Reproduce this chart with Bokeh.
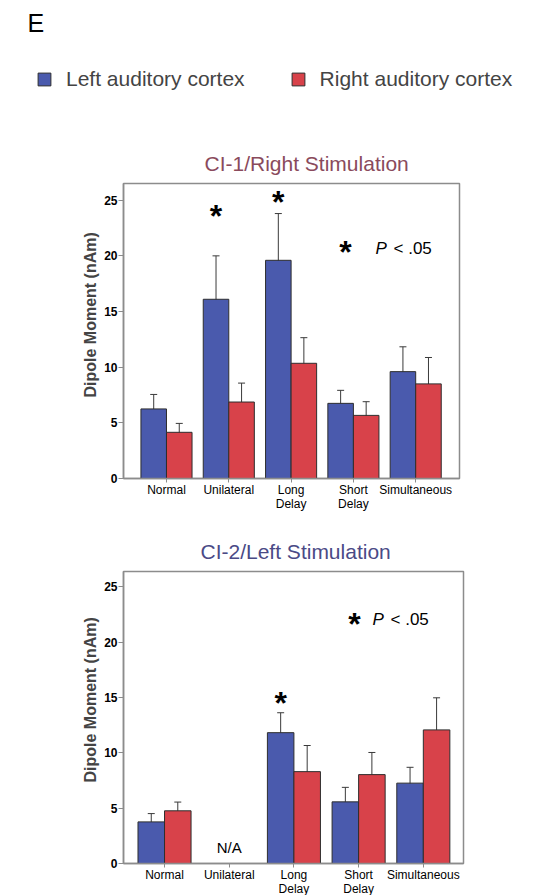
from bokeh.plotting import figure
from bokeh.models import (ColumnDataSource, Whisker, TeeHead, FixedTicker, Title,
                          Legend, LegendItem, Range1d)
from bokeh.layouts import column
from bokeh.embed import file_html
from bokeh.resources import INLINE
from bokeh.core.properties import value

# ---------------- data ----------------
categories = ["Normal", "Unilateral", "Long\nDelay", "Short\nDelay", "Simultaneous"]
series = ["Left auditory cortex", "Right auditory cortex"]
panel_letter = "E"
y_ticks = [0, 5, 10, 15, 20, 25]

ci1_left = [6.25, 16.1, 19.6, 6.75, 9.6]
ci1_left_err = [1.3, 3.9, 4.2, 1.17, 2.23]
ci1_right = [4.15, 6.87, 10.35, 5.67, 8.5]
ci1_right_err = [0.8, 1.7, 2.3, 1.23, 2.37]
ci1_star_cat = [1, 2]
ci1_star_y = [23.97, 25.2]
ci1_sig_y = 20.7

ci2_left = [3.76, None, 11.82, 5.57, 7.26]
ci2_left_err = [0.75, None, 1.8, 1.31, 1.43]
ci2_right = [4.76, None, 8.3, 8.03, 12.07]
ci2_right_err = [0.79, None, 2.36, 2.0, 2.9]
ci2_star_cat = [2]
ci2_star_y = [14.9]
ci2_sig_y = 22.0
ci2_na_cat = [1]
ci2_na_y = [1.44]

BLUE = "#4a5aad"
RED = "#d8424a"
EDGE = "#2e2e2e"
FONT = "Liberation Sans"
BAR_W = 0.41
PAGE_W = 551
HDR_H = 141


def make_chart(title, title_color, title_offset, left, left_err, right, right_err,
               star_cat, star_y, sig_y, star_x, p_x, x_start, x_end, y_end,
               frame_w, frame_h, mb_top, mb_bottom):
    p = figure(frame_width=frame_w, frame_height=frame_h,
               x_range=Range1d(x_start, x_end), y_range=Range1d(0, y_end),
               output_backend="svg", toolbar_location=None, frame_align=False,
               min_border_left=123, min_border_right=PAGE_W - 123 - frame_w,
               min_border_top=mb_top, min_border_bottom=mb_bottom)
    p.title.text = title
    p.title.align = "left"
    p.title.offset = title_offset
    p.title.standoff = 17
    p.title.text_font = FONT
    p.title.text_font_size = "21px"
    p.title.text_font_style = "normal"
    p.title.text_color = title_color

    p.grid.visible = False
    p.outline_line_color = "#8c8c8c"
    p.outline_line_width = 1.5

    sources = []
    for vals, errs, shift, col in ((left, left_err, -BAR_W / 2, BLUE),
                                   (right, right_err, BAR_W / 2, RED)):
        xs, tops, up, lo = [], [], [], []
        for i, (v, e) in enumerate(zip(vals, errs)):
            if v is None:
                continue
            xs.append(i + shift)
            tops.append(v)
            up.append(v + e)
            lo.append(v - e)
        src = ColumnDataSource(dict(x=xs, top=tops, upper=up, lower=lo))
        sources.append(src)
        p.vbar(x="x", top="top", width=BAR_W, source=src, fill_color=col,
               line_color=EDGE, line_width=1)
        w = Whisker(base="x", upper="upper", lower="lower", source=src,
                    line_color="#3a3a3a", line_width=1,
                    upper_head=TeeHead(size=7, line_color="#3a3a3a", line_width=1),
                    lower_head=TeeHead(size=7, line_color="#3a3a3a", line_width=1))
        p.add_layout(w)

    # significance stars above left-hemisphere bars
    p.text(x=[c - BAR_W / 2 for c in star_cat], y=star_y, text=["*"] * len(star_cat),
           text_font=value(FONT), text_font_size="32px", text_font_style="bold",
           text_align="center", text_baseline="middle", y_offset=4, text_color="black")
    # "* P < .05" key
    p.text(x=[star_x], y=[sig_y], text=["*"], text_font=value(FONT),
           text_font_size="32px", text_font_style="bold", text_align="center",
           text_baseline="middle", y_offset=4, text_color="black")
    p.text(x=[p_x], y=[sig_y], text=["P"], text_font=value(FONT),
           text_font_size="17px", text_font_style="italic", text_align="left",
           text_baseline="middle", text_color="black")
    p.text(x=[p_x], y=[sig_y], text=["< .05"], text_font=value(FONT),
           text_font_size="17px", text_align="left", x_offset=18,
           text_baseline="middle", text_color="black")

    # axes
    p.yaxis.ticker = FixedTicker(ticks=y_ticks)
    p.yaxis.major_label_text_font = FONT
    p.yaxis.major_label_text_font_size = "12px"
    p.yaxis.major_label_text_font_style = "bold"
    p.yaxis.major_label_standoff = 1
    p.yaxis.major_tick_in = 0
    p.yaxis.major_tick_out = 5
    p.yaxis.minor_tick_line_color = None

    p.xaxis.ticker = FixedTicker(ticks=list(range(len(categories))))
    p.xaxis.major_label_overrides = {i: c for i, c in enumerate(categories)}
    p.xaxis.major_label_text_font = FONT
    p.xaxis.major_label_text_font_size = "12px"
    p.xaxis.major_label_text_line_height = 1.0
    p.xaxis.major_label_standoff = 0
    p.xaxis.major_tick_in = 0
    p.xaxis.major_tick_out = 4
    p.xaxis.minor_tick_line_color = None

    for ax in (p.xaxis, p.yaxis):
        ax.axis_line_color = "#8c8c8c"
        ax.axis_line_width = 1.5
        ax.major_tick_line_color = "#8c8c8c"
        ax.major_label_text_color = "black"

    p.add_layout(Title(text="Dipole Moment (nAm)", align="left", offset=81,
                       text_font=FONT, text_font_size="16px", text_font_style="bold",
                       standoff=6), "left")
    return p, sources


top, top_sources = make_chart("CI-1/Right Stimulation", "#8a4a5c", 81,
                              ci1_left, ci1_left_err, ci1_right, ci1_right_err,
                              ci1_star_cat, ci1_star_y, ci1_sig_y, 2.873, 3.355,
                              -0.69, 4.703, 26.5, 336, 295, 42, 38)
bot, _ = make_chart("CI-2/Left Stimulation", "#4a4a86", 77,
                    ci2_left, ci2_left_err, ci2_right, ci2_right_err,
                    ci2_star_cat, ci2_star_y, ci2_sig_y, 2.936, 3.215,
                    -0.634, 4.621, 26.38, 340, 292, 55, 31)
bot.text(x=ci2_na_cat, y=ci2_na_y, text=["N/A"] * len(ci2_na_cat),
         text_font=value(FONT), text_font_size="15px", text_align="center",
         text_baseline="middle", text_color="black")

# ---------------- header (panel letter + legend) ----------------
hdr = figure(frame_width=PAGE_W, frame_height=HDR_H, x_range=Range1d(0, PAGE_W),
             y_range=Range1d(HDR_H, 0), output_backend="svg", toolbar_location=None,
             min_border=0, x_axis_location=None, y_axis_location=None,
             frame_align=False)
hdr.grid.visible = False
hdr.outline_line_color = None
# legend proxies share the top chart's data but are not drawn themselves
r_left = hdr.vbar(x="x", top="top", width=BAR_W, source=top_sources[0],
                  fill_color=BLUE, line_color=EDGE, visible=False)
r_right = hdr.vbar(x="x", top="top", width=BAR_W, source=top_sources[1],
                   fill_color=RED, line_color=EDGE, visible=False)
leg = Legend(items=[LegendItem(label=series[0], renderers=[r_left]),
                    LegendItem(label=series[1], renderers=[r_right])],
             orientation="horizontal", location=(36, HDR_H - 91), glyph_width=16,
             glyph_height=16, label_standoff=14, spacing=45, padding=0, margin=0,
             border_line_color=None, background_fill_alpha=0,
             inactive_fill_alpha=0, click_policy="none",
             label_text_font=FONT, label_text_font_size="21px", label_height=16)
hdr.add_layout(leg)
hdr.text(x=[27], y=[22.5], text=[panel_letter], text_font=value(FONT),
         text_font_size="25px", text_baseline="middle", text_align="left",
         text_color="black")

layout = column(hdr, top, bot, spacing=0)
open("out.html", "w").write(file_html(layout, INLINE))
